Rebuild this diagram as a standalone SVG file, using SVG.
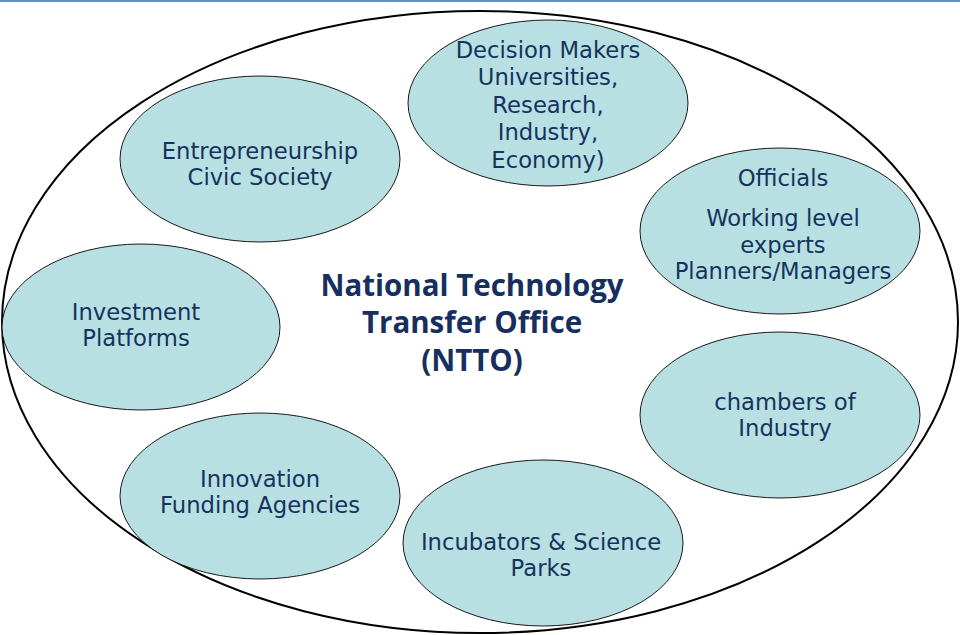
<svg xmlns="http://www.w3.org/2000/svg" width="960" height="635" viewBox="0 0 960 635">
<style>
.node{fill:#b8dfe1;stroke:#1a1a1a;stroke-width:1}
.lbl{font-family:"DejaVu Sans",Verdana,sans-serif;font-size:22.7px;fill:#15335e;text-anchor:middle}
.title{font-family:"Open Sans",Lato,sans-serif;font-weight:bold;font-size:29.5px;fill:#172f5e;text-anchor:middle}
</style>
<rect x="0" y="0" width="960" height="635" fill="#ffffff"/>
<rect x="0" y="0" width="960" height="2" fill="#5b8fc9"/>
<g id="outer"><ellipse cx="480" cy="322" rx="478" ry="311" fill="none" stroke="#000" stroke-width="2"/></g>
<g id="connectors"></g>
<g id="title">
<text class="title" x="472" y="296">National Technology</text>
<text class="title" x="472" y="333">Transfer Office</text>
<text class="title" x="472" y="371" font-size="32px">(NTTO)</text>
</g>
<g id="decision">
<ellipse class="node" cx="548" cy="103" rx="140" ry="83"/>
<text class="lbl" x="548" y="58">Decision Makers</text>
<text class="lbl" x="548" y="85">Universities,</text>
<text class="lbl" x="548" y="113">Research,</text>
<text class="lbl" x="548" y="140">Industry,</text>
<text class="lbl" x="548" y="168">Economy)</text>
</g>
<g id="entrepreneurship">
<ellipse class="node" cx="260" cy="159" rx="140" ry="83"/>
<text class="lbl" x="260" y="159">Entrepreneurship</text>
<text class="lbl" x="260" y="185">Civic Society</text>
</g>
<g id="officials">
<ellipse class="node" cx="780" cy="231" rx="140" ry="83"/>
<text class="lbl" x="783" y="186">Officials</text>
<text class="lbl" x="783" y="226">Working level</text>
<text class="lbl" x="783" y="253">experts</text>
<text class="lbl" x="783" y="279">Planners/Managers</text>
</g>
<g id="investment">
<ellipse class="node" cx="141" cy="327" rx="139" ry="83"/>
<text class="lbl" x="136" y="320">Investment</text>
<text class="lbl" x="136" y="346">Platforms</text>
</g>
<g id="chambers">
<ellipse class="node" cx="780" cy="415" rx="140" ry="83"/>
<text class="lbl" x="785" y="410">chambers of</text>
<text class="lbl" x="785" y="436">Industry</text>
</g>
<g id="innovation">
<ellipse class="node" cx="260" cy="496" rx="140" ry="83"/>
<text class="lbl" x="260" y="487">Innovation</text>
<text class="lbl" x="260" y="513">Funding Agencies</text>
</g>
<g id="incubators">
<ellipse class="node" cx="543" cy="543" rx="140" ry="83"/>
<text class="lbl" x="541" y="550">Incubators &amp; Science</text>
<text class="lbl" x="541" y="576">Parks</text>
</g>
</svg>
